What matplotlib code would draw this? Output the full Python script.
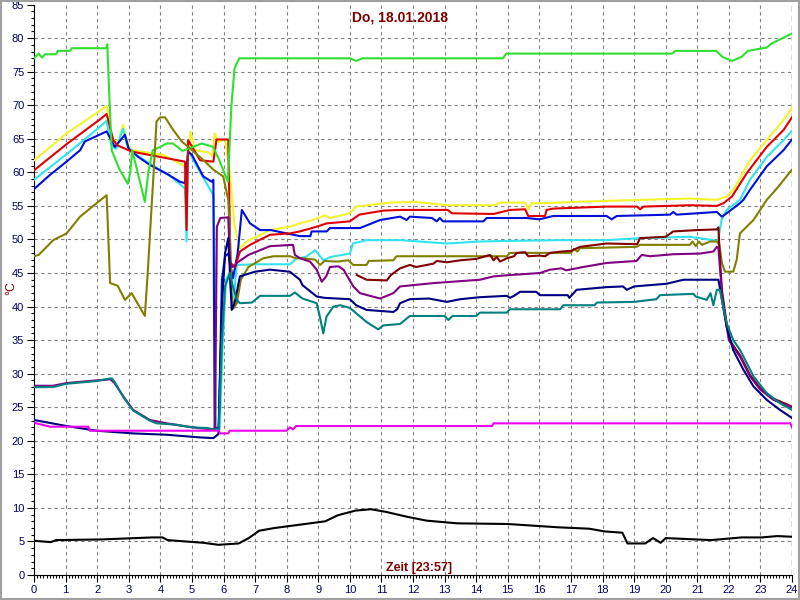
import matplotlib
matplotlib.use("Agg")
import matplotlib.pyplot as plt
from matplotlib.ticker import MultipleLocator
from matplotlib.patches import Rectangle

# ---------------- data (hour of day, temperature in °C) ----------------
green_h = [0, 0.15, 0.25, 0.35, 0.7, 0.75, 1.14, 1.2, 2.28, 2.32, 2.38, 2.46, 2.7, 2.97, 3.05, 3.11, 3.51, 3.62,
           3.76, 4.0, 4.2, 4.4, 4.7, 5.04, 5.31, 5.67, 5.85, 6.14, 6.25, 6.35, 6.5, 7.0, 10.0, 10.2, 10.4, 14.85,
           14.95, 19.6, 20.2, 20.3, 21.6, 21.8, 22.1, 22.4, 22.6, 23.2, 23.35, 23.7, 24.0]
green_v = [77.0, 77.7, 77.1, 77.6, 77.6, 78.1, 78.1, 78.5, 78.5, 79.1, 72.0, 63.3, 60.5, 58.3, 60.0, 63.3, 55.6, 60.0,
           63.3, 63.8, 64.3, 64.3, 63.2, 63.8, 64.3, 63.8, 62.0, 58.6, 70.0, 75.5, 77.0, 77.0, 77.0, 76.6, 77.0, 77.0,
           77.7, 77.7, 77.7, 78.1, 78.1, 77.2, 76.6, 77.2, 78.1, 78.6, 79.2, 80.0, 80.7]

yellow_h = [0, 1.03, 2.09, 2.3, 2.45, 2.56, 2.7, 2.82, 2.95, 3.1, 4.1, 4.78, 4.88, 4.95, 5.1, 5.5, 5.65, 5.72, 5.85,
            6.05, 6.2, 6.35, 6.52, 6.79, 7.05, 7.47, 8.1, 8.42, 8.84, 9.21, 9.37, 10.0, 10.2, 11.27, 12.1, 13.07,
            14.55, 14.76, 15.55, 15.65, 15.75, 16.18, 17.08, 19.19, 20.77, 21.62, 21.93, 22.14, 22.67, 23.2, 23.73, 24.0]
yellow_v = [61.8, 65.8, 69.2, 69.9, 65.5, 64.5, 65.0, 67.1, 64.5, 63.3, 62.6, 60.9, 61.5, 66.1, 63.3, 63.0, 62.5, 65.8,
            64.5, 65.0, 60.0, 52.0, 48.7, 49.9, 50.4, 51.4, 51.9, 52.4, 52.9, 53.6, 53.2, 53.9, 54.9, 55.5, 55.6, 55.1,
            55.1, 55.5, 55.5, 54.5, 55.4, 55.4, 55.6, 55.9, 56.1, 55.9, 56.4, 57.4, 61.8, 64.8, 67.8, 69.6]

red_h = [0, 1.03, 2.09, 2.3, 2.51, 2.65, 2.85, 3.09, 4.78, 4.83, 4.88, 5.26, 5.68, 5.78, 6.15, 6.22, 6.37, 6.52,
         6.84, 7.47, 8.1, 8.42, 8.95, 9.27, 10.0, 10.3, 11.06, 11.59, 13.1, 13.23, 14.55, 15.07, 15.55, 15.65,
         16.18, 16.23, 16.44, 18.13, 19.1, 19.19, 19.3, 20.77, 21.62, 21.83, 22.1, 22.57, 23.2, 23.73, 24.0]
red_v = [60.3, 64.2, 67.9, 68.7, 64.8, 64.0, 63.6, 63.1, 61.6, 51.4, 64.8, 61.8, 61.6, 64.9, 64.9, 46.5, 45.9, 48.2,
         49.2, 50.7, 50.9, 51.2, 51.9, 52.4, 52.7, 53.7, 54.3, 54.4, 54.4, 53.9, 53.8, 54.4, 54.5, 53.5,
         53.5, 54.4, 54.6, 54.9, 54.9, 54.5, 54.9, 55.1, 55.0, 55.4, 56.4, 59.9, 63.8, 66.3, 68.2]

cyan_h = [0, 1.03, 2.09, 2.3, 2.45, 2.6, 2.82, 2.95, 3.09, 3.7, 4.3, 4.78, 4.83, 4.88, 5.15, 5.68, 5.72, 5.76, 5.88,
          5.98, 6.08, 6.18, 6.26, 6.34, 6.42, 7.0, 8.1, 8.32, 8.6, 8.9, 9.16, 9.4, 10.0, 10.1, 10.53, 11.6, 13.07,
          14.12, 15.2, 16.66, 18.13, 19.19, 20.77, 21.51, 21.65, 21.77, 21.93, 22.35, 22.67, 23.2, 23.73, 24.0]
cyan_v = [58.9, 62.7, 66.8, 67.7, 64.0, 63.5, 66.5, 64.0, 63.1, 61.2, 59.5, 57.6, 49.7, 63.3, 60.9, 56.6, 46.0, 22.0, 21.8,
          35.0, 44.0, 45.0, 41.0, 42.0, 46.2, 46.3, 46.3, 47.2, 47.4, 48.4, 46.9, 47.4, 47.9, 49.4, 49.9, 49.9, 49.4,
          49.7, 49.8, 49.9, 49.9, 50.2, 50.4, 49.9, 49.6, 52.9, 54.4, 55.9, 58.9, 62.3, 64.8, 66.2]

blue_h = [0, 0.5, 1.03, 1.46, 1.61, 2.3, 2.56, 2.88, 3.0, 3.3, 3.67, 4.2, 4.62, 4.78, 4.88, 5.0, 5.36, 5.63, 5.68,
          5.72, 5.85, 5.95, 6.05, 6.15, 6.3, 6.45, 6.58, 6.84, 7.16, 7.5, 8.0, 8.21, 8.42, 8.75, 8.79, 9.27, 9.37,
          10.32, 10.96, 11.59, 11.8, 11.9, 12.6, 12.75, 12.85, 12.95, 14.23, 14.33, 15.6, 16.0, 16.44, 18.13, 18.29,
          18.45, 20.14, 20.24, 20.35, 21.62, 21.78, 21.93, 22.35, 22.46, 22.67, 23.2, 23.73, 24.0]
blue_v = [57.5, 59.6, 61.6, 63.3, 64.6, 66.1, 63.8, 65.6, 63.5, 62.3, 61.1, 59.8, 58.6, 58.4, 63.1, 62.6, 59.4, 58.6, 58.9,
          22.0, 21.8, 44.0, 47.5, 47.9, 44.2, 48.0, 54.4, 52.4, 51.4, 51.4, 50.9, 50.7, 50.5, 50.5, 51.2, 51.2, 51.7,
          51.7, 52.9, 53.4, 52.9, 53.4, 53.2, 52.7, 53.2, 52.7, 52.7, 53.2, 53.2, 53.0, 53.5, 53.5, 53.0,
          53.5, 53.7, 54.1, 53.7, 54.1, 53.4, 53.9, 55.4, 55.9, 57.4, 60.9, 63.3, 64.9]

olive_h = [0, 0.15, 0.61, 1.03, 1.46, 1.98, 2.3, 2.41, 2.65, 2.88, 3.09, 3.51, 3.6, 3.78, 3.88, 3.99, 4.15, 4.41,
           4.68, 5.0, 5.3, 5.68, 5.99, 6.15, 6.2, 6.26, 6.31, 6.42, 6.55, 6.79, 7.26, 7.58, 8.1, 8.3, 8.5, 8.9, 9.06,
           9.2, 9.6, 9.95, 10.11, 10.53, 10.6, 11.38, 11.48, 14.97, 15.07, 16.66, 17.0, 17.1, 17.2, 17.29, 19.08,
           19.19, 20.77, 20.85, 20.95, 21.05, 21.15, 21.41, 21.62, 21.7, 21.78, 21.88, 22.14, 22.25, 22.35, 22.78,
           23.2, 23.52, 24.0]
olive_v = [47.5, 47.7, 49.9, 50.9, 53.4, 55.4, 56.6, 43.5, 43.1, 41.0, 42.0, 38.6, 45.0, 59.4, 67.6, 68.2, 68.2, 66.3,
           64.6, 63.3, 62.1, 60.4, 59.4, 55.9, 50.9, 42.0, 39.7, 40.5, 44.0, 45.9, 47.2, 47.5, 47.5, 47.2, 47.2, 47.0, 46.2,
           46.8, 46.7, 46.9, 46.2, 46.2, 46.8, 46.9, 47.5, 47.5, 48.0, 48.0, 48.0, 48.6, 48.2, 48.7, 48.9,
           49.2, 49.2, 49.7, 49.0, 49.7, 49.2, 49.7, 49.7, 49.2, 46.5, 45.2, 45.2, 47.0, 50.9, 52.9,
           55.9, 57.6, 60.4]

maroon_h = [10.22, 10.53, 11.17, 11.3, 11.59, 11.9, 12.1, 12.65, 12.75, 13.07, 13.5, 14.0, 14.44, 14.55, 14.65, 14.76,
            14.97, 15.2, 15.28, 15.55, 15.65, 16.0, 16.18, 16.34, 16.7, 17.0, 17.29, 18.13, 19.1, 19.19, 20.0, 20.24,
            21.0, 21.62, 21.67, 21.72, 21.78, 21.93, 22.04, 22.14, 22.36, 22.67, 23.0, 23.41, 24.0]
maroon_v = [44.7, 44.0, 43.9, 44.7, 45.7, 46.2, 45.9, 46.4, 46.8, 46.6, 46.9, 47.1, 47.7, 46.9, 47.4, 46.7,
            47.2, 47.5, 48.0, 48.1, 47.5, 47.6, 47.5, 48.0, 48.2, 48.3, 48.9, 49.4, 49.3, 50.2, 50.4, 51.2,
            51.4, 51.5, 51.8, 47.0, 42.5, 37.5, 35.0, 34.2, 32.7, 29.8, 27.8, 26.3, 25.1]

purple_h = [0, 0.6, 1.03, 1.98, 2.3, 2.41, 2.55, 2.83, 3.14, 3.67, 4.2, 4.73, 5.2, 5.68, 5.73, 5.79, 5.9, 6.15, 6.2,
            6.26, 6.35, 6.42, 6.79, 7.47, 8.2, 8.26, 8.42, 8.74, 8.95, 9.11, 9.25, 9.37, 9.64, 9.8, 10.11, 10.32,
            10.96, 11.38, 11.59, 12.65, 14.12, 14.55, 15.07, 16.02, 16.34, 16.7, 16.85, 17.39, 18.13, 19.08, 19.24,
            19.5, 20.24, 21.09, 21.51, 21.62, 21.67, 21.8, 22.0, 22.14, 22.36, 22.67, 23.0, 23.41, 24.0]
purple_v = [28.2, 28.2, 28.6, 29.0, 29.1, 29.2, 28.6, 26.6, 24.6, 23.1, 22.6, 22.2, 21.9, 21.7, 22.0, 51.9, 53.2, 53.3, 47.0,
            45.9, 46.0, 46.5, 47.7, 49.0, 49.2, 47.7, 47.2, 46.7, 45.5, 43.7, 44.5, 45.9, 46.0, 45.5, 43.0, 42.0,
            41.2, 42.0, 43.0, 43.5, 44.0, 44.5, 44.7, 45.0, 45.5, 45.7, 45.4, 45.9, 46.5, 46.8, 47.7,
            47.5, 47.8, 47.9, 48.2, 48.9, 48.7, 41.0, 35.0, 34.0, 32.5, 29.6, 27.6, 26.1, 25.0]

teal_h = [0, 0.6, 1.03, 1.98, 2.3, 2.46, 2.55, 2.83, 3.14, 3.67, 3.88, 4.2, 4.5, 5.0, 5.5, 5.68, 5.85, 5.95, 6.05,
          6.2, 6.3, 6.42, 6.52, 6.9, 7.16, 8.1, 8.26, 8.5, 8.95, 9.05, 9.16, 9.26, 9.48, 9.7, 10.0, 10.53, 10.9,
          11.06, 11.59, 11.9, 13.0, 13.12, 13.25, 14.0, 14.12, 14.97, 15.07, 16.66, 16.76, 17.75, 17.82, 19.0,
          19.71, 19.82, 20.88, 20.95, 21.3, 21.42, 21.51, 21.62, 21.72, 21.93, 22.14, 22.36, 22.78, 23.2, 23.62, 24.0]
teal_v = [28.0, 28.0, 28.5, 28.9, 29.2, 29.3, 28.8, 26.5, 24.5, 23.0, 22.6, 22.5, 22.4, 22.0, 21.9, 21.7, 21.7, 35.0,
          43.0, 45.0, 43.0, 41.0, 40.5, 40.6, 41.6, 41.6, 42.1, 41.2, 40.5, 38.5, 36.0, 38.5, 40.0, 40.2, 39.8, 37.7,
          36.6, 37.2, 37.4, 38.6, 38.6, 38.0, 38.6, 38.6, 39.1, 39.1, 39.6, 39.6, 40.2, 40.2, 40.6, 40.7,
          41.1, 41.7, 41.9, 41.5, 41.0, 42.0, 40.2, 42.5, 42.5, 37.5, 35.0, 33.5, 29.6, 27.1, 25.6, 24.6]

navy_h = [0, 1.03, 1.98, 3.14, 4.2, 5.26, 5.68, 5.84, 5.95, 6.05, 6.15, 6.26, 6.35, 6.52, 7.0, 7.47, 8.1, 8.26,
          8.42, 8.5, 8.95, 9.2, 10.0, 10.2, 10.53, 11.38, 11.5, 11.59, 11.9, 12.5, 13.07, 13.5, 14.12, 14.97,
          15.07, 15.2, 15.39, 15.9, 16.02, 16.9, 16.95, 17.18, 18.13, 18.65, 18.77, 19.0, 20.03, 20.56, 21.67,
          21.93, 22.14, 22.46, 22.78, 23.2, 23.62, 24.0]
navy_v = [23.1, 22.2, 21.5, 21.1, 20.9, 20.5, 20.4, 21.0, 40.0, 48.0, 50.2, 39.5, 40.5, 44.5, 45.2, 45.5, 45.2, 44.6,
          44.0, 43.2, 41.5, 41.3, 41.1, 40.2, 39.5, 39.2, 39.6, 40.5, 41.1, 41.2, 40.7, 41.1, 41.4, 41.6,
          41.3, 41.6, 42.2, 42.2, 41.7, 41.7, 41.3, 42.5, 42.9, 43.0, 42.5, 43.0, 43.4, 44.0, 44.0,
          37.0, 33.5, 30.6, 28.1, 26.1, 24.6, 23.4]

magenta_h = [0, 0.25, 0.51, 1.72, 1.77, 5.85, 5.89, 6.15, 6.2, 8.0, 8.1, 8.2, 8.3, 14.5, 14.55, 23.95, 24.0]
magenta_v = [22.7, 22.4, 22.1, 22.1, 21.5, 21.5, 21.1, 21.1, 21.5, 21.5, 22.0, 21.7, 22.2, 22.2, 22.6, 22.6, 22.0]

black_h = [0, 0.53, 0.7, 2.14, 3.75, 4.07, 4.23, 5.36, 5.84, 6.48, 6.8, 7.13, 7.61, 8.58, 9.22, 9.62, 10.18, 10.67,
           11.15, 11.79, 12.43, 13.4, 15.0, 15.97, 16.62, 17.58, 18.06, 18.63, 18.79, 19.35, 19.6, 19.84, 20.0,
           21.44, 22.41, 23.05, 23.53, 24.0]
black_v = [5.1, 4.9, 5.2, 5.3, 5.6, 5.6, 5.2, 4.8, 4.5, 4.7, 5.5, 6.6, 7.0, 7.6, 8.0, 8.9, 9.6, 9.8,
           9.4, 8.7, 8.1, 7.7, 7.6, 7.3, 7.1, 6.9, 6.5, 6.3, 4.7, 4.7, 5.5, 4.8, 5.5,
           5.2, 5.6, 5.6, 5.8, 5.7]

x_ticks = list(range(0, 25))
y_ticks = list(range(0, 90, 5))
title_text = "Do, 18.01.2018"
xlabel_text = "Zeit [23:57]"
ylabel_text = "°C"

# ---------------- figure ----------------
plt.rcParams['font.family'] = ['Liberation Sans', 'DejaVu Sans']
fig = plt.figure(figsize=(8, 6), dpi=100)
fig.patch.set_facecolor('white')
ax = fig.add_axes([34 / 800, 25 / 600, (792 - 34) / 800, (575 - 4.6) / 600])
ax.set_xlim(0, 24)
ax.set_ylim(0, 85)

# grid
for gx in range(1, 24):
    ax.axvline(gx, color='#808080', lw=0.8, ls=(0, (3, 3)), zorder=1)
for gy in range(5, 85, 5):
    ax.axhline(gy, color='#808080', lw=0.8, ls=(0, (3, 3)), zorder=1)
ax.axvline(24, color='#008000', lw=1.0, ls=(0, (4, 3)), zorder=1)

series = [
    (yellow_h, yellow_v, '#f4f428'),
    (cyan_h, cyan_v, '#30e4f0'),
    (blue_h, blue_v, '#0010d8'),
    (red_h, red_v, '#e00000'),
    (green_h, green_v, '#30e030'),
    (olive_h, olive_v, '#808000'),
    (maroon_h, maroon_v, '#800000'),
    (purple_h, purple_v, '#800080'),
    (navy_h, navy_v, '#000080'),
    (teal_h, teal_v, '#008080'),
    (magenta_h, magenta_v, '#f000f0'),
    (black_h, black_v, '#000000'),
]
for h, v, c in series:
    ax.plot(h, v, color=c, lw=1.5, zorder=3, solid_joinstyle='round')

# axes styling
for s in ['top', 'right']:
    ax.spines[s].set_visible(False)
for s in ['left', 'bottom']:
    ax.spines[s].set_color('black')
    ax.spines[s].set_linewidth(0.8)
ax.set_xticks(x_ticks)
ax.set_yticks(y_ticks)
ax.xaxis.set_minor_locator(MultipleLocator(0.1))
ax.yaxis.set_minor_locator(MultipleLocator(1))
ax.tick_params(which='major', direction='out', length=5, width=0.8, color='black',
               labelsize=8, labelcolor='#000066', pad=2)
ax.tick_params(which='minor', direction='out', length=2.5, width=0.8, color='black')

fig.text(0.5, 1 - 18 / 600, title_text, ha='center', va='center', color='#800000',
         fontsize=10, fontweight='bold')
fig.text(419 / 800, 1 - 568 / 600, xlabel_text, ha='center', va='center', color='#800000',
         fontsize=9, fontweight='bold')
fig.text(11 / 800, 1 - 288 / 600, ylabel_text, ha='center', va='center', color='#800000',
         fontsize=9, rotation=90)

fig.add_artist(Rectangle((0.001, 0.001), 0.998, 0.998, transform=fig.transFigure, fill=False,
                         edgecolor='#a0a0a0', lw=1.5))

fig.savefig('out.png', dpi=100, facecolor='white')
